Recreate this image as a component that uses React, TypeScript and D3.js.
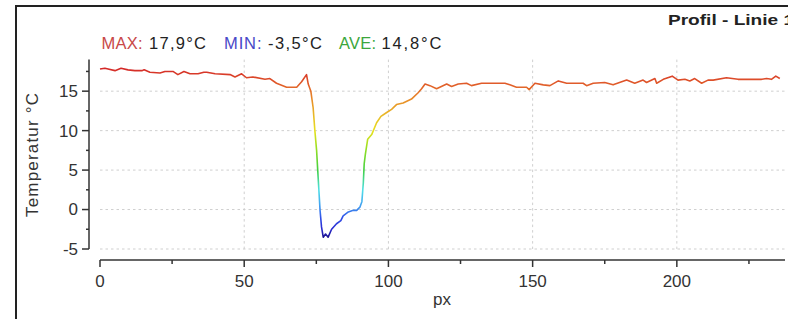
import React from "react";
import * as d3 from "d3";

// profile position (px) and temperature (°C)
const positions = [
  0, 1.7, 2.8, 5.2, 7.3, 9.7, 12.1, 14.5, 15.3, 17.3, 20.8, 22.5, 25.3, 27.0,
  29.1, 31.2, 34.0, 36.0, 37.0, 39.9, 45.1, 46.8, 49.1, 50.8, 53.0, 57.2, 58.9,
  61.2, 64.7, 68.2, 69.9, 71.6, 72.2, 73.1, 73.9, 74.5, 75.1, 75.5, 75.9, 76.3,
  76.8, 77.4, 78.2, 79.1, 80.3, 82.0, 83.5, 84.3, 86.1, 87.8, 89.0, 90.1, 90.8,
  91.3, 91.6, 92.0, 92.8, 94.2, 95.9, 97.4, 99.4, 101.1, 102.8, 105.1, 108.0,
  110.3, 111.5, 112.7, 114.4, 116.7, 120.2, 121.9, 124.2, 127.1, 128.8, 132.3,
  140.4, 142.1, 144.4, 147.9, 148.8, 150.8, 153.7, 156.0, 158.9, 161.8, 167.5,
  168.7, 171.0, 175.0, 177.9, 182.6, 185.4, 188.3, 189.5, 192.4, 193.0, 195.3,
  198.4, 200.4, 202.8, 204.5, 206.2, 208.6, 210.8, 212.6, 217.2, 221.2, 229.4,
  231.1, 232.8, 234.3, 235.7,
];
const temps = [
  17.8, 17.9, 17.8, 17.6, 17.9, 17.7, 17.6, 17.6, 17.7, 17.4, 17.3, 17.5, 17.5,
  17.1, 17.5, 17.2, 17.2, 17.4, 17.4, 17.2, 17.1, 16.8, 17.2, 16.7, 16.8, 16.5,
  16.6, 16.0, 15.5, 15.5, 16.2, 17.1, 15.9, 15.0, 12.9, 10.0, 7.5, 4.9, 2.4,
  -0.1, -2.2, -3.5, -3.1, -3.5, -2.5, -1.8, -1.4, -0.8, -0.3, -0.1, -0.1, 0.3,
  1.0, 3.4, 5.8, 7.0, 8.9, 9.5, 11.0, 11.8, 12.3, 12.7, 13.3, 13.5, 14.0, 14.8,
  15.3, 15.9, 15.7, 15.3, 15.9, 15.6, 15.9, 16.0, 15.7, 16.0, 16.0, 15.8, 15.5,
  15.5, 15.2, 16.0, 15.8, 15.7, 16.3, 16.0, 16.0, 15.7, 16.0, 16.1, 15.8, 16.4,
  16.0, 16.4, 16.1, 16.6, 16.0, 16.5, 16.9, 16.4, 16.5, 16.3, 16.6, 16.0, 16.4,
  16.4, 16.7, 16.5, 16.5, 16.6, 16.5, 16.9, 16.6,
];

const stats = [
  { label: "MAX:", value: "17,9°C", color: "#c84848" },
  { label: "MIN:", value: "-3,5°C", color: "#4848c8" },
  { label: "AVE:", value: "14,8°C", color: "#3ca63c" },
];

const xTicks = [0, 50, 100, 150, 200];
const xMinor = [25, 75, 125, 175, 225];
const yTicks = [-5, 0, 5, 10, 15];
const yMinor = [-2.5, 2.5, 7.5, 12.5, 17.5];

// rainbow colour ramp from min to max temperature
const rampValues = [-3.5, -2.5, -1, 0.5, 2.5, 5, 8, 10, 12, 14, 16, 17.9];
const rampColors = [
  "#1c1490", "#2a2ad0", "#3050e8", "#40a0f0", "#50e0e8", "#40d040",
  "#a0e020", "#e8e020", "#e8b828", "#e88a28", "#e05a2a", "#d42828",
];

const font = "'Liberation Sans', Arial, sans-serif";

export default function App() {
  const width = 788;
  const height = 319;

  const x = d3.scaleLinear().domain([0, 237.5]).range([100, 785]);
  const y = d3.scaleLinear().domain([-5, 19]).range([249, 59.6]);

  const data = positions.map((p, i) => ({ p, t: temps[i] }));
  const line = d3
    .line<{ p: number; t: number }>()
    .x((d) => x(d.p))
    .y((d) => y(d.t));

  const tMin = rampValues[0];
  const tMax = rampValues[rampValues.length - 1];

  // placement of the stats text pieces
  const labelX = [101.5, 224, 339];
  const labelW = [41, 37.5, 37];
  const valueX = [149, 268, 381.5];
  const valueW = [57, 54, 60];

  return (
    <svg
      width={width}
      height={height}
      style={{ position: "absolute", left: 0, top: 0, background: "#fff" }}
      fontFamily={font}
    >
      <defs>
        <linearGradient
          id="tempRamp"
          gradientUnits="userSpaceOnUse"
          x1={0}
          x2={0}
          y1={y(tMin)}
          y2={y(tMax)}
        >
          {rampValues.map((v, i) => (
            <stop
              key={v}
              offset={(v - tMin) / (tMax - tMin)}
              stopColor={rampColors[i]}
            />
          ))}
        </linearGradient>
      </defs>

      {/* frame */}
      <path d="M16,319V6H788" fill="none" stroke="#222" strokeWidth={2} />

      <text
        x={668}
        y={24.5}
        fontSize={14}
        fontWeight="bold"
        fill="#222"
        textLength={126}
        lengthAdjust="spacingAndGlyphs"
      >
        Profil - Linie 1
      </text>

      {/* stats line */}
      {stats.map((s, i) => (
        <g key={s.label} fontSize={16.5}>
          <text x={labelX[i]} y={48.5} fill={s.color} textLength={labelW[i]}>
            {s.label}
          </text>
          <text x={valueX[i]} y={48.5} fill="#222" textLength={valueW[i]}>
            {s.value}
          </text>
        </g>
      ))}

      {/* grid */}
      {yTicks.map((t) => (
        <line
          key={"gy" + t}
          x1={100}
          x2={785}
          y1={y(t)}
          y2={y(t)}
          stroke="#cfcfcf"
          strokeDasharray="2.5,3"
        />
      ))}
      {xTicks.slice(1).map((t) => (
        <line
          key={"gx" + t}
          x1={x(t)}
          x2={x(t)}
          y1={y(19)}
          y2={y(-5)}
          stroke="#cfcfcf"
          strokeDasharray="2.5,3"
        />
      ))}

      {/* y axis */}
      <line x1={89} x2={89} y1={y(19)} y2={y(-5)} stroke="#333" strokeWidth={1.5} />
      {yTicks.map((t) => (
        <g key={"yt" + t}>
          <line x1={82} x2={89} y1={y(t)} y2={y(t)} stroke="#333" strokeWidth={1.5} />
          <text
            x={78}
            y={y(t)}
            dy="0.35em"
            textAnchor="end"
            fontSize={17}
            fill="#333"
          >
            {t}
          </text>
        </g>
      ))}
      {yMinor.map((t) => (
        <line key={"ym" + t} x1={86} x2={89} y1={y(t)} y2={y(t)} stroke="#333" strokeWidth={1.5} />
      ))}
      <text
        transform={`translate(38,155) rotate(-90)`}
        textAnchor="middle"
        fontSize={17}
        fill="#333"
        textLength={124}
      >
        Temperatur °C
      </text>

      {/* x axis */}
      <line x1={100} x2={785} y1={260} y2={260} stroke="#333" strokeWidth={1.5} />
      {xTicks.map((t) => (
        <g key={"xt" + t}>
          <line x1={x(t)} x2={x(t)} y1={260} y2={267} stroke="#333" strokeWidth={1.5} />
          <text x={x(t)} y={287} textAnchor="middle" fontSize={17} fill="#333">
            {t}
          </text>
        </g>
      ))}
      {xMinor.map((t) => (
        <line key={"xm" + t} x1={x(t)} x2={x(t)} y1={260} y2={264} stroke="#333" strokeWidth={1.5} />
      ))}
      <text x={442} y={305} textAnchor="middle" fontSize={17} fill="#333">
        px
      </text>

      {/* profile line */}
      <path
        d={line(data) || ""}
        fill="none"
        stroke="url(#tempRamp)"
        strokeWidth={1.6}
        strokeLinejoin="round"
      />
    </svg>
  );
}
